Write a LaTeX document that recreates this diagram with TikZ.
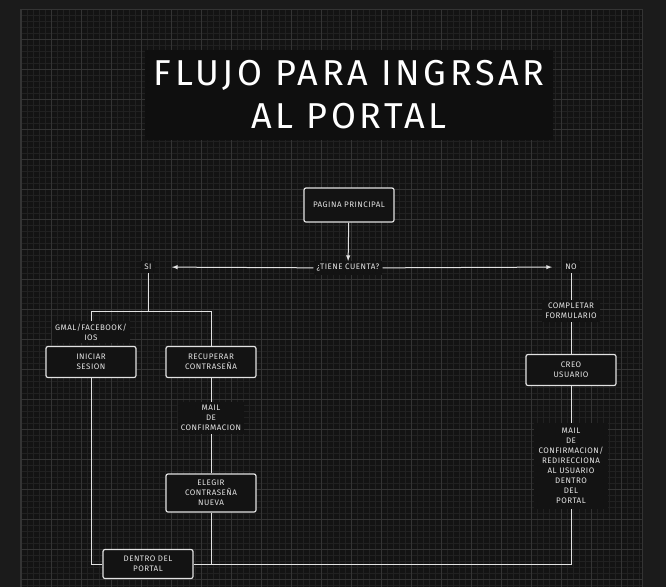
\documentclass[tikz,border=0pt]{standalone}
\usepackage{fontspec}
\setmainfont[LetterSpace=6]{Fira Sans}
\newfontfamily\titlefont[LetterSpace=10]{Fira Sans}

\definecolor{frame}{HTML}{1B1B1B}
\definecolor{canvas}{HTML}{131313}
\definecolor{titlebg}{HTML}{0F0F0F}
\definecolor{minorgrid}{HTML}{212121}
\definecolor{majorgrid}{HTML}{343434}
\definecolor{chalk}{HTML}{E2E2E2}

\tikzset{
    box/.style={draw=chalk, line width=1.2pt, rounded corners=2pt, fill=canvas,
        text=chalk, align=center, minimum width=90pt, inner sep=2pt,
        font=\fontsize{8}{10}\selectfont},
    note/.style={fill=canvas, text=chalk!90, align=center, inner sep=3pt,
        font=\fontsize{8}{10}\selectfont},
    link/.style={draw=chalk, line width=1pt},
}

\begin{document}
\begin{tikzpicture}[x=1pt, y=-1pt]
    \useasboundingbox (0,0) rectangle (666,587);

    % Background and grid
    \fill[frame] (0,0) rectangle (666,587);
    \fill[canvas] (20,9) rectangle (642,587);
    \foreach \x in {21,27,...,639} \draw[minorgrid, line width=0.5pt] (\x,9) -- (\x,587);
    \foreach \y in {15,21,...,585} \draw[minorgrid, line width=0.5pt] (20,\y) -- (642,\y);
    \foreach \x in {21,51,...,621} \draw[majorgrid, line width=0.6pt] (\x,9) -- (\x,587);
    \foreach \y in {39,69,...,579} \draw[majorgrid, line width=0.6pt] (20,\y) -- (642,\y);
    \draw[majorgrid, line width=0.8pt] (20,587) -- (20,9) -- (642,9) -- (642,587);

    % Title
    \node[fill=titlebg, text=white, align=center, minimum width=408pt, minimum height=90pt,
        font=\titlefont\fontsize{36}{43}\selectfont] (title) at (349,95) {FLUJO PARA INGRSAR\\AL PORTAL};

    % Start and question
    \node[box, minimum height=34pt] (home) at (349,205) {PAGINA PRINCIPAL};
    \node[note] (ask) at (348,268) {¿TIENE CUENTA?};
    \node[note] (yes) at (148,267) {SI};
    \node[note] (no) at (571,267) {NO};
    \draw[link, -latex] (home) -- (ask);
    \draw[link, -latex, shorten >=17pt] (ask) -- (yes);
    \draw[link, -latex, shorten >=10pt] (ask) -- (no);

    % Branch SI
    \coordinate (split) at (148,311);
    \node[note] (gmail) at (91,332) {GMAL/FACEBOOK/\\IOS};
    \node[box, minimum height=31pt] (login) at (91,362) {INICIAR\\SESION};
    \node[box, minimum height=31pt] (recover) at (211,362) {RECUPERAR\\CONTRASEÑA};
    \node[note] (mail) at (211,418) {MAIL\\DE\\CONFIRMACION};
    \node[box, minimum height=38pt] (newpass) at (211,493) {ELEGIR\\CONTRASEÑA\\NUEVA};
    \node[box, minimum height=29pt] (portal) at (148,564) {DENTRO DEL\\PORTAL};
    \draw[link] (yes) -- (split);
    \draw[link] (split) -| (gmail);
    \draw[link] (split) -| (recover);
    \draw[link] (recover) -- (mail);
    \draw[link] (mail) -- (newpass);
    \draw[link] (login) |- (portal);
    \draw[link] (newpass) |- (portal);

    % Branch NO
    \node[note] (form) at (571,311) {COMPLETAR\\FORMULARIO};
    \node[box, minimum height=31pt] (signup) at (571,370) {CREO\\USUARIO};
    \node[note, inner sep=5pt] (welcome) at (571,466)
        {MAIL\\DE\\CONFIRMACION/\\REDIRECCIONA\\AL USUARIO\\DENTRO\\DEL\\PORTAL};
    \draw[link] (no) -- (form);
    \draw[link] (form) -- (signup);
    \draw[link] (signup) -- (welcome);
    \draw[link] (welcome) |- (portal);
\end{tikzpicture}
\end{document}
